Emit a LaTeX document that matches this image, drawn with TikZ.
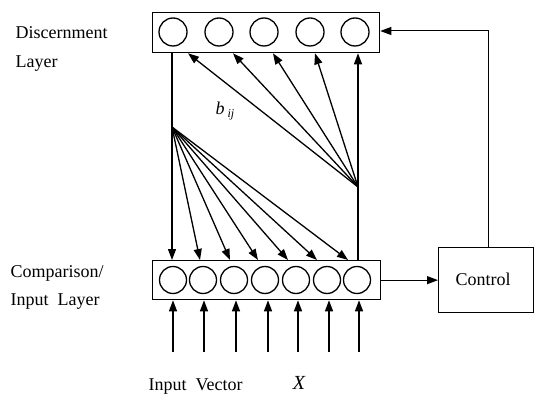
\documentclass[tikz,border=0pt]{standalone}
\usepackage{fontspec}
\setmainfont{Liberation Serif}
\usetikzlibrary{arrows.meta,calc}
\begin{document}
\begin{tikzpicture}[x=1pt,y=-1pt,
  every path/.style={line width=1.3pt},
  layerbox/.style={draw,line width=1.3pt,inner sep=0pt,anchor=north west},
  neuronT/.style={draw,circle,minimum size=28pt,inner sep=0pt,line width=1.3pt},
  neuronB/.style={draw,circle,minimum size=27pt,inner sep=0pt,line width=1.3pt},
  arr/.style={-{Triangle[length=11pt,width=8pt]}},
  lbl/.style={font=\fontsize{18}{21}\selectfont,anchor=base west,inner sep=0pt}]
\useasboundingbox (0,0) rectangle (534,395);
% layers
\node[layerbox,minimum width=227pt,minimum height=40pt] (top) at (152,12) {};
\node[layerbox,minimum width=228pt,minimum height=39pt] (bot) at (152,260) {};
\foreach \x [count=\i] in {173,219,264,310,355}
  \node[neuronT] (t\i) at (\x,32) {};
\foreach \x [count=\i] in {173,203,234,265,296,327,357}
  \node[neuronB] (c\i) at (\x,280) {};
% control
\node[layerbox,minimum width=95pt,minimum height=65pt] (ctrl) at (438,247) {};
\node[lbl] (ctrltxt) at (455,285) {Control};
% fan points
\coordinate (fanL) at (172,127);
\coordinate (fanR) at (358,187);
% verticals
\draw[arr] (top.south -| 172,0) -- (bot.north -| 172,0);
\draw[arr] (bot.north -| fanR) -- (top.south -| fanR);
% fan down
\foreach \x in {200,230,258,288,317,348}
  \draw[arr] (fanL) -- (bot.north -| \x,0);
% fan up
\foreach \x in {188,233,273,315}
  \draw[arr] (fanR) -- (top.south -| \x,0);
% inputs
\foreach \x [count=\i] in {173,204,236,268,298,329,359}{
  \coordinate (in\i) at (\x,352);
  \draw[arr] (in\i) -- (bot.south -| in\i);
}
% control links
\draw[arr,line width=1pt] (bot.east) -- (bot.east -| ctrl.west);
\coordinate (fbk) at (488,31);
\draw[arr,line width=1pt] (ctrl.north -| fbk) -- (fbk) -- (top.east |- fbk);
% labels
\node[lbl] (disc1) at (15,39) {Discernment};
\node[lbl] (disc2) at (15,68) {Layer};
\node[lbl] (comp1) at (10,277) {Comparison/};
\node[lbl] (comp2) at (10,305) {Input\ \ Layer};
\node[lbl] (inv) at (148,390) {Input\ \ Vector};
\node[lbl,anchor=base,font=\fontsize{20}{22}\selectfont\itshape] (xv) at (299,389) {X};
\node[lbl,font=\fontsize{18}{21}\selectfont\itshape] (bij) at (215,115) {b\,\raisebox{-3pt}{\fontsize{12}{13}\selectfont ij}};
\end{tikzpicture}
\end{document}
